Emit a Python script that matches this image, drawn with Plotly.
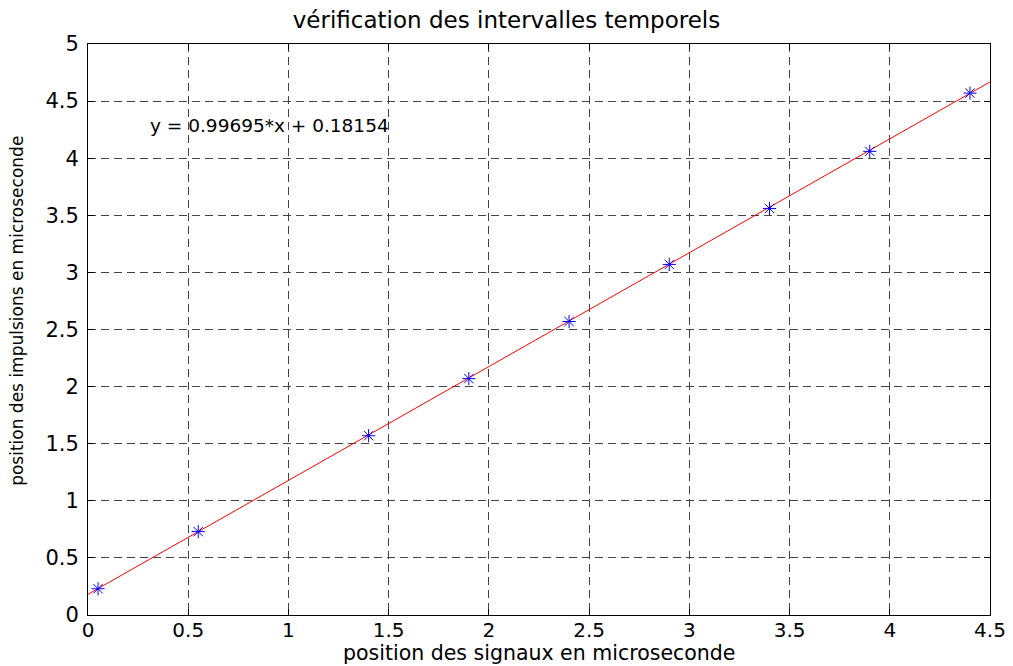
import plotly.graph_objects as go

# measured points
signal_pos = [0.05, 0.55, 1.4, 1.9, 2.4, 2.9, 3.4, 3.9, 4.4]
pulse_pos = [0.23, 0.73, 1.57, 2.07, 2.57, 3.07, 3.56, 4.06, 4.57]

# linear fit
slope = 0.99695
intercept = 0.18154
fit_x = [0, 4.5]
fit_y = [slope * v + intercept for v in fit_x]

tick_vals = [0, 0.5, 1, 1.5, 2, 2.5, 3, 3.5, 4, 4.5, 5]
tick_text = ["0", "0.5", "1", "1.5", "2", "2.5", "3", "3.5", "4", "4.5", "5"]

fig = go.Figure()

fig.add_trace(go.Scatter(
    x=fit_x, y=fit_y, mode="lines",
    line=dict(color="#ff0000", width=1),
))
fig.add_trace(go.Scatter(
    x=signal_pos, y=pulse_pos, mode="markers",
    marker=dict(symbol="asterisk-open", size=11, color="#0000ff",
                line=dict(color="#0000ff", width=1)),
))

# fit equation
fig.add_annotation(
    x=0.3, y=4.29, xref="x", yref="y",
    text="y = 0.99695*x + 0.18154",
    showarrow=False, xanchor="left", yanchor="middle",
    font=dict(size=18.5, color="black"),
)

# axis titles as annotations so they sit where the original has them
fig.add_annotation(
    x=-0.078, y=0.532, xref="paper", yref="paper",
    text="position des impulsions en microseconde",
    textangle=-90, showarrow=False, xanchor="center", yanchor="middle",
    font=dict(size=17, color="black"),
)
fig.add_annotation(
    x=0.5, y=-0.067, xref="paper", yref="paper",
    text="position des signaux en microseconde",
    showarrow=False, xanchor="center", yanchor="middle",
    font=dict(size=20.5, color="black"),
)

axis_common = dict(
    showgrid=True, gridcolor="#444444", griddash="8px,5px", gridwidth=1,
    zeroline=False, showline=True, linecolor="black", linewidth=1,
    mirror="ticks", ticks="inside", ticklen=6, tickcolor="black",
    tickmode="array", tickvals=tick_vals, ticktext=tick_text,
    automargin=False,
)

fig.update_layout(
    width=1013, height=666,
    margin=dict(l=88, r=23, t=44, b=51),
    paper_bgcolor="white", plot_bgcolor="white",
    font=dict(family="DejaVu Sans, Arial, sans-serif", color="black"),
    showlegend=False,
    title=dict(text="vérification des intervalles temporels", x=0.5, xanchor="center",
               y=0.97, yanchor="middle", font=dict(size=23)),
    xaxis=dict(axis_common, range=[0, 4.5], tickfont=dict(size=20), ticklabelstandoff=-3),
    yaxis=dict(axis_common, range=[0, 5], tickfont=dict(size=21), ticklabelstandoff=4),
)

fig.write_html("out.html", config={"displayModeBar": False},
               post_script="document.body.style.margin='0';")
